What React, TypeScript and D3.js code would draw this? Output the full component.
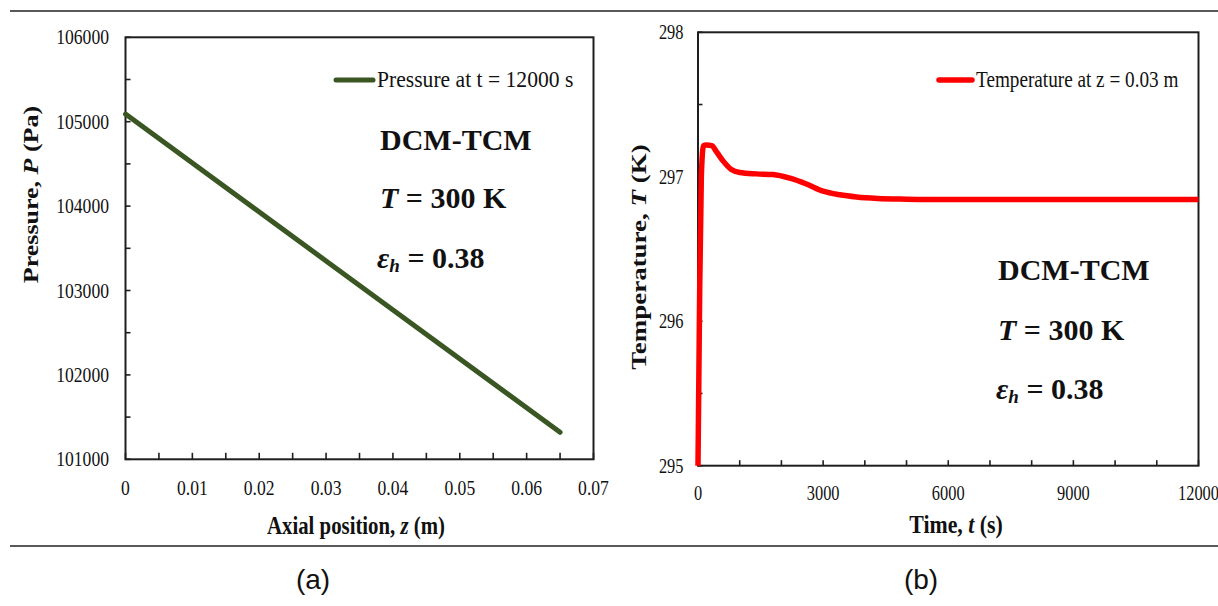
import React from 'react';
import * as d3 from 'd3';

// Panel (a): pressure along the bed at t = 12000 s
const pressureZ = [0, 0.03, 0.065];
const pressureP = [105090, 103350, 101320];
const zTickLabels = [0, 0.01, 0.02, 0.03, 0.04, 0.05, 0.06, 0.07];
const pTickLabels = [101000, 102000, 103000, 104000, 105000, 106000];

// Panel (b): temperature history at z = 0.03 m
const timeS = [0, 40, 80, 130, 200, 330, 450, 600, 800, 1000, 1400, 1800, 2200, 2600, 3000, 3400, 3800, 4300, 5000, 6000, 8000, 10000, 12000];
const tempK = [295, 296.2, 297.0, 297.215, 297.22, 297.215, 297.17, 297.11, 297.05, 297.03, 297.02, 297.015, 296.99, 296.95, 296.9, 296.875, 296.86, 296.85, 296.845, 296.842, 296.842, 296.842, 296.842];
const tTickLabels = [0, 3000, 6000, 9000, 12000];
const TTickLabels = [295, 296, 297, 298];

const SERIF = "'Liberation Serif', 'Times New Roman', serif";
const SANS = "'Liberation Sans', Arial, sans-serif";
const GREEN = '#3a5622';
const RED = '#ff0000';
const AXIS = '#1e1e1e';

function STxt({ x, y, sx = 0.8, size, anchor = 'middle', weight = 'normal', rotate = 0, children }: any) {
  return (
    <text
      transform={`translate(${x},${y}) scale(${sx},1)${rotate ? ` rotate(${rotate})` : ''}`}
      fontFamily={SERIF}
      fontSize={size}
      fontWeight={weight}
      textAnchor={anchor}
      fill="#111"
    >
      {children}
    </text>
  );
}

export default function App() {
  const xL = d3.scaleLinear().domain([0, 0.07]).range([125.5, 593.5]);
  const yL = d3.scaleLinear().domain([101000, 106000]).range([459.3, 37.3]);
  const xR = d3.scaleLinear().domain([0, 12000]).range([698, 1198.5]);
  const yR = d3.scaleLinear().domain([295, 298]).range([465.7, 32.3]);

  const lineL = d3
    .line<number>()
    .x((_, i) => xL(pressureZ[i]))
    .y((d) => yL(d));
  const lineR = d3
    .line<number>()
    .x((_, i) => xR(timeS[i]))
    .y((d) => yR(d))
    .curve(d3.curveMonotoneX);

  const zMinor = d3.range(15).map((i) => i * 0.005);
  const pMinor = d3.range(11).map((i) => 101000 + i * 500);
  const tMinor = d3.range(13).map((i) => i * 1000);
  const TMinor = d3.range(7).map((i) => 295 + i * 0.5);

  const [l0, l1] = xL.range();
  const [lb, lt] = yL.range();
  const [r0, r1] = xR.range();
  const [rb, rt] = yR.range();

  return (
    <svg
      width={1218}
      height={606}
      style={{ position: 'absolute', left: 0, top: 0, background: '#fff' }}
    >
      <rect x={0} y={0} width={1218} height={606} fill="#fff" />
      {/* separators */}
      <line x1={10} x2={1218} y1={11} y2={11} stroke="#222" strokeWidth={1.5} />
      <line x1={10} x2={1218} y1={546} y2={546} stroke="#222" strokeWidth={1.5} />

      {/* ---------- Panel (a) ---------- */}
      <rect x={l0} y={lt} width={l1 - l0} height={lb - lt} fill="none" stroke={AXIS} strokeWidth={2} />
      {zMinor.map((z, i) => (
        <line key={'zm' + i} x1={xL(z)} x2={xL(z)} y1={lb} y2={lb - 6.5} stroke={AXIS} strokeWidth={1.6} />
      ))}
      {pMinor.map((p, i) => (
        <line key={'pm' + i} x1={l0} x2={l0 + 5} y1={yL(p)} y2={yL(p)} stroke={AXIS} strokeWidth={1.6} />
      ))}
      {zTickLabels.map((z) => (
        <STxt key={'zl' + z} x={xL(z)} y={495} size={22} sx={0.8}>
          {String(z)}
        </STxt>
      ))}
      {pTickLabels.map((p) => (
        <STxt key={'pl' + p} x={109} y={yL(p) + 7} size={22} sx={0.8} anchor="end">
          {String(p)}
        </STxt>
      ))}
      <path d={lineL(pressureP) || ''} fill="none" stroke={GREEN} strokeWidth={5} strokeLinecap="round" />
      {/* axis titles */}
      <STxt x={356} y={534} size={26} sx={0.8} weight="bold">
        Axial position, <tspan fontStyle="italic">z</tspan> (m)
      </STxt>
      <STxt x={37.8} y={194.5} size={26} sx={0.8} weight="bold" rotate={-90}>
        Pressure, <tspan fontStyle="italic">P</tspan> (Pa)
      </STxt>
      {/* legend */}
      <line x1={336} x2={373} y1={80} y2={80} stroke={GREEN} strokeWidth={5} strokeLinecap="round" />
      <STxt x={377} y={87} size={24} sx={0.9} anchor="start">
        Pressure at t = 12000 s
      </STxt>
      {/* annotations */}
      <text x={380} y={150} fontFamily={SERIF} fontSize={30} fontWeight="bold" fill="#111">DCM-TCM</text>
      <text x={380} y={208} fontFamily={SERIF} fontSize={30} fontWeight="bold" fill="#111">
        <tspan fontStyle="italic">T</tspan> = 300 K
      </text>
      <text x={377} y={268} fontFamily={SERIF} fontSize={30} fontWeight="bold" fill="#111">
        <tspan fontStyle="italic">ε</tspan>
        <tspan fontStyle="italic" fontSize={19} dy={4}>h</tspan>
        <tspan dy={-4}> = 0.38</tspan>
      </text>
      <text x={313} y={589} textAnchor="middle" fontFamily={SANS} fontSize={28} fill="#111">(a)</text>

      {/* ---------- Panel (b) ---------- */}
      <rect x={r0} y={rt} width={r1 - r0} height={rb - rt} fill="none" stroke={AXIS} strokeWidth={2} />
      {tMinor.map((t, i) => (
        <line key={'tm' + i} x1={xR(t)} x2={xR(t)} y1={rb} y2={rb - 5.5} stroke={AXIS} strokeWidth={1.6} />
      ))}
      {TMinor.map((T, i) => (
        <line key={'Tm' + i} x1={r0} x2={r0 + 4.5} y1={yR(T)} y2={yR(T)} stroke={AXIS} strokeWidth={1.6} />
      ))}
      {tTickLabels.map((t) => (
        <STxt key={'tl' + t} x={xR(t)} y={500} size={21} sx={0.78}>
          {String(t)}
        </STxt>
      ))}
      {TTickLabels.map((T) => (
        <STxt key={'Tl' + T} x={683.5} y={yR(T) + 7} size={21} sx={0.78} anchor="end">
          {String(T)}
        </STxt>
      ))}
      <path d={lineR(tempK) || ''} fill="none" stroke={RED} strokeWidth={5.5} strokeLinejoin="round" />
      <STxt x={956} y={533} size={26} sx={0.84} weight="bold">
        Time, <tspan fontStyle="italic">t</tspan> (s)
      </STxt>
      <STxt x={645.6} y={257} size={27} sx={0.8} weight="bold" rotate={-90}>
        Temperature, <tspan fontStyle="italic">T</tspan> (K)
      </STxt>
      <line x1={939} x2={972} y1={80} y2={80} stroke={RED} strokeWidth={5.5} strokeLinecap="round" />
      <STxt x={976} y={87} size={24} sx={0.8} anchor="start">
        Temperature at z = 0.03 m
      </STxt>
      <text x={998} y={280} fontFamily={SERIF} fontSize={30} fontWeight="bold" fill="#111">DCM-TCM</text>
      <text x={998} y={340} fontFamily={SERIF} fontSize={30} fontWeight="bold" fill="#111">
        <tspan fontStyle="italic">T</tspan> = 300 K
      </text>
      <text x={996} y={399} fontFamily={SERIF} fontSize={30} fontWeight="bold" fill="#111">
        <tspan fontStyle="italic">ε</tspan>
        <tspan fontStyle="italic" fontSize={19} dy={4}>h</tspan>
        <tspan dy={-4}> = 0.38</tspan>
      </text>
      <text x={921} y={589} textAnchor="middle" fontFamily={SANS} fontSize={28} fill="#111">(b)</text>
    </svg>
  );
}
